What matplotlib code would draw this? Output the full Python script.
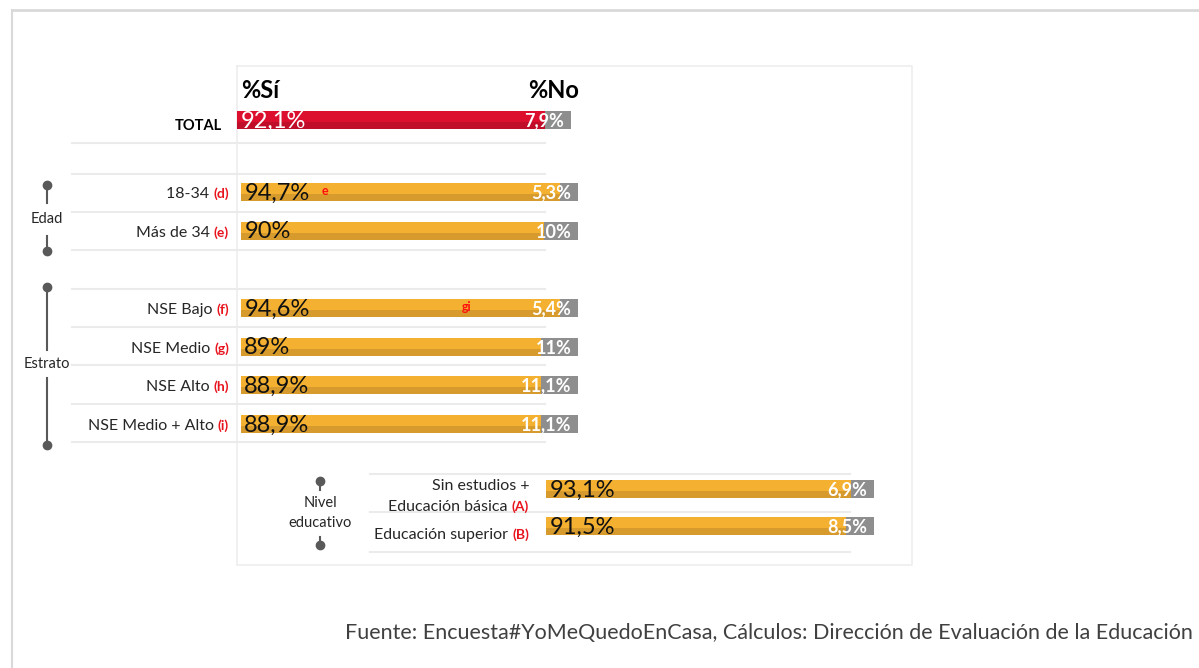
import matplotlib
matplotlib.use('Agg')
import matplotlib.pyplot as plt

plt.rcParams['font.family'] = ['Lato', 'DejaVu Sans']

# data
categories = ['18-34', 'Más de 34', 'NSE Bajo', 'NSE Medio', 'NSE Alto', 'NSE Medio + Alto']
tags = ['(d)', '(e)', '(f)', '(g)', '(h)', '(i)']
si = [94.7, 90, 94.6, 89, 88.9, 88.9]
no = [5.3, 10, 5.4, 11, 11.1, 11.1]
sig = ['e', '', 'gi', '', '', '']

total_si = 92.1
total_no = 7.9

edu_cats = ['Sin estudios +\nEducación básica', 'Educación superior']
edu_tags = ['(A)', '(B)']
edu_si = [93.1, 91.5]
edu_no = [6.9, 8.5]

source = 'Fuente: Encuesta#YoMeQuedoEnCasa, Cálculos: Dirección de Evaluación de la Educación'

# layout (pixel rows)
W, H = 1199, 668
rows_main = [192, 231, 308, 347, 385, 424]
row_total = 120
rows_edu = [489, 526]
sig_x = [25, 0, 67, 0, 0, 0]
bar_h = 18

ORANGE, ORANGE_D = '#F4B030', '#D69A2D'
RED, RED_D = '#DC0F2E', '#C00D29'
GRAY = '#8E8E8E'
LINE = '#EBEBEB'


def fmt(v):
    return f'{v:g}'.replace('.', ',') + '%'


def bar_axes(x0, x1):
    a = fig.add_axes([x0 / W, 0, (x1 - x0) / W, 1])
    a.set_xlim(0, 100)
    a.set_ylim(H, 0)
    a.axis('off')
    return a


def draw_bars(a, ys, s_vals, n_vals, c, cd, lab_color):
    a.barh(ys, s_vals, height=bar_h, color=c, clip_on=False)
    a.barh([y + bar_h * 0.3 for y in ys], s_vals, height=bar_h * 0.4, color=cd, clip_on=False)
    a.barh(ys, n_vals, left=s_vals, height=bar_h, color=GRAY, clip_on=False)
    for y, s, n in zip(ys, s_vals, n_vals):
        a.text(1, y + 1, fmt(s), fontsize=17, color=lab_color, va='center', ha='left')
        a.text(98, y + 1, fmt(n), fontsize=13, fontweight='bold', color='white',
               va='center', ha='right')


def two_color_label(x, y, black, red, size=11.5, tag_size=10):
    r = deco.text(x, y, red, fontsize=tag_size, fontweight='bold', color='#E8141E',
                  ha='right', va='center')
    deco.annotate(black + ' ', xy=(0, 0.5), xycoords=r, fontsize=size, color='#262626',
                  ha='right', va='center')


fig = plt.figure(figsize=(W / 100, H / 100), dpi=100)
deco = fig.add_axes([0, 0, 1, 1])
deco.set_xlim(0, W)
deco.set_ylim(H, 0)
deco.axis('off')

# outer frame and panel
deco.plot([12, W], [10, 10], color='#D9D9D9', lw=2)
deco.plot([12, 12], [10, H], color='#D9D9D9', lw=1.5)
deco.plot([237, 912, 912, 237, 237], [66, 66, 565, 565, 66], color='#EDEDED', lw=1.2)

# row separators
for y in [143, 174, 212, 250, 289, 327, 365, 404, 442]:
    deco.plot([72, 545], [y, y], color=LINE, lw=1.5)
for y in [474, 512, 552]:
    deco.plot([370, 850], [y, y], color=LINE, lw=1.5)

# headers
deco.text(241, 90, '%Sí', fontsize=17, fontweight='bold', ha='left', va='center')
deco.text(579, 90, '%No', fontsize=17, fontweight='bold', ha='right', va='center')

# bars
ax_total = bar_axes(237, 571)
draw_bars(ax_total, [row_total], [total_si], [total_no], RED, RED_D, 'white')
ax_main = bar_axes(241, 578)
draw_bars(ax_main, rows_main, si, no, ORANGE, ORANGE_D, '#111111')
for y, s, xs in zip(rows_main, sig, sig_x):
    if s:
        ax_main.text(xs, y - 1, s, fontsize=9, fontweight='bold', color='#FF1010',
                     ha='center', va='center')
ax_edu = bar_axes(546, 874)
draw_bars(ax_edu, rows_edu, edu_si, edu_no, ORANGE, ORANGE_D, '#111111')

# row labels
deco.text(222, 126, 'TOTAL', fontsize=10.5, fontweight='bold', ha='right', va='center')
for y, c, t in zip(rows_main, categories, tags):
    two_color_label(229, y + 2, c, t)

first, second = edu_cats[0].split('\n')
deco.text(529, 486, first, fontsize=11.5, color='#262626', ha='right', va='center')
two_color_label(529, 507, second, edu_tags[0])
two_color_label(529, 535, edu_cats[1], edu_tags[1])

# group brackets
PIN = '#595959'
def bracket(x, y0, y1, ya, yb):
    deco.plot([x, x], [y0, ya], color=PIN, lw=1.5)
    deco.plot([x, x], [yb, y1], color=PIN, lw=1.5)
    deco.plot([x, x], [y0, y1], 'o', color=PIN, ms=6)

bracket(47, 185, 251, 203, 236)
deco.text(47, 219, 'Edad', fontsize=10.5, ha='center', va='center', color='#262626')
bracket(47, 287, 445, 350, 378)
deco.text(47, 364, 'Estrato', fontsize=10.5, ha='center', va='center', color='#262626')
bracket(320, 481, 545, 490, 537)
deco.text(320, 513, 'Nivel\neducativo', fontsize=10.5, ha='center', va='center',
          color='#262626', linespacing=1.5)

# source
deco.text(1193, 633, source, fontsize=15.5, color='#404040', ha='right', va='center')

fig.savefig('out.png', dpi=100)
